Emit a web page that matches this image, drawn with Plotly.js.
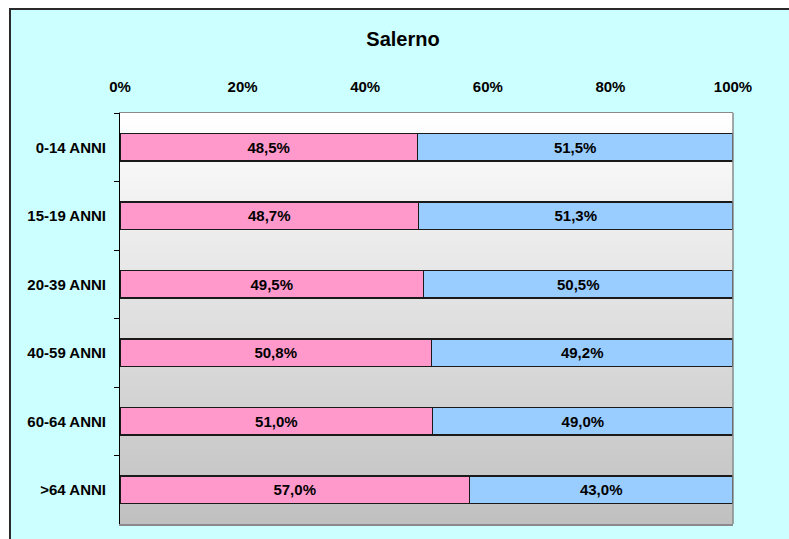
<!DOCTYPE html>
<html>
<head>
<meta charset="utf-8">
<script src="https://cdn.plot.ly/plotly-3.0.1.min.js"></script>
<style>
  html, body { margin: 0; padding: 0; background: #ffffff; width: 789px; height: 539px; overflow: hidden; }
  #chart { position: absolute; left: 9px; top: 8px; width: 780px; height: 531px;
           border-left: 2px solid #2a2a2a; border-top: 2px solid #2a2a2a; background: #CCFFFF; }
</style>
</head>
<body>
<div id="chart"></div>
<script>
const categories = ["0-14 ANNI", "15-19 ANNI", "20-39 ANNI", "40-59 ANNI", "60-64 ANNI", ">64 ANNI"];
const femmine = [48.5, 48.7, 49.5, 50.8, 51.0, 57.0];
const maschi = [51.5, 51.3, 50.5, 49.2, 49.0, 43.0];
const xTicks = [0, 20, 40, 60, 80, 100];
const xTickLabels = ["0%", "20%", "40%", "60%", "80%", "100%"];
const chartTitle = "Salerno";

const FONT = "'Liberation Sans', Arial, sans-serif";

// vertical gradient background of plot area (white -> gray), nested rects to avoid seams
const shapes = [];
const N = 120;
for (let i = 0; i < N; i++) {
  const t = (i + 0.5) / N;          // 0 at top, 1 at bottom
  const v = Math.round(255 - (255 - 192) * t);
  const c = `rgb(${v},${v},${v})`;
  shapes.push({type: 'rect', xref: 'paper', yref: 'paper', layer: 'below',
    x0: 0, x1: 1, y0: 0, y1: 1 - i / N,
    fillcolor: c, line: {width: 0}});
}
// right border of plot area
shapes.push({type: 'line', xref: 'paper', yref: 'paper', x0: 1, x1: 1, y0: 0, y1: 1,
  line: {color: '#8a8a8a', width: 1.5}});

const common = {
  type: 'bar', orientation: 'h', y: categories,
  textposition: 'inside', insidetextanchor: 'middle', textangle: 0,
  constraintext: 'none',
  texttemplate: '%{x:.1f}%',
  textfont: {family: FONT, size: 15, color: '#000', weight: 700},
  hoverinfo: 'skip'
};

const data = [
  Object.assign({}, common, {x: femmine, name: 'F',
    marker: {color: '#FF99CC', line: {color: '#1a1a1a', width: 1.5}}}),
  Object.assign({}, common, {x: maschi, name: 'M',
    marker: {color: '#99CCFF', line: {color: '#1a1a1a', width: 1.5}}})
];

const layout = {
  width: 780, height: 531,
  margin: {l: 109, r: 58, t: 103, b: 17, pad: 0},
  paper_bgcolor: '#CCFFFF',
  plot_bgcolor: '#ffffff',
  separators: ',.',
  barmode: 'stack',
  bargap: 0.6,
  showlegend: false,
  title: {text: chartTitle, xref: 'container', yref: 'container',
    x: 392 / 780, xanchor: 'center', y: 1 - 29 / 531, yanchor: 'middle',
    font: {family: FONT, size: 20, color: '#000', weight: 700}},
  xaxis: {
    side: 'top', range: [0, 100], tickmode: 'array', tickvals: xTicks, ticktext: xTickLabels,
    showgrid: false, zeroline: false,
    showline: true, linecolor: '#8a8a8a', linewidth: 1.5, mirror: true,
    ticks: 'outside', ticklen: 14, tickcolor: 'rgba(0,0,0,0)',
    tickfont: {family: FONT, size: 15, color: '#000', weight: 700},
    fixedrange: true
  },
  yaxis: {
    type: 'category', autorange: 'reversed',
    showgrid: false, zeroline: false,
    showline: true, linecolor: '#000', linewidth: 1,
    ticks: 'outside', ticklen: 5, tickcolor: '#000', tickwidth: 1,
    tickson: 'boundaries', ticklabelstandoff: 10,
    tickfont: {family: FONT, size: 15, color: '#000', weight: 700},
    fixedrange: true
  },
  shapes: shapes
};

Plotly.newPlot('chart', data, layout, {displayModeBar: false, staticPlot: true});
</script>
</body>
</html>
